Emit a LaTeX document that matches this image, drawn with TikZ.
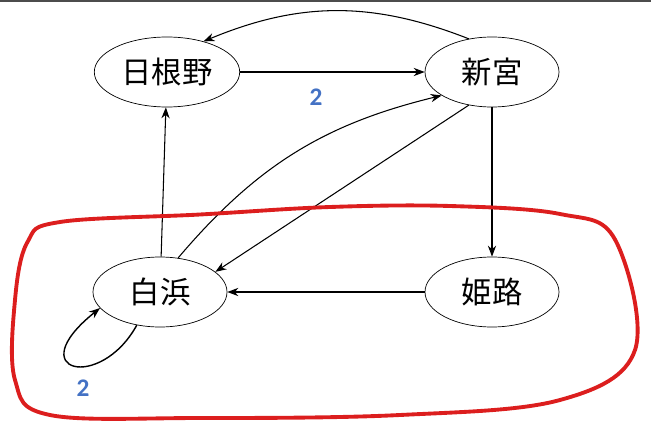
\documentclass[tikz,border=0pt]{standalone}
\usepackage{fontspec}
\newfontfamily\cjk{Noto Sans CJK JP}
\newfontfamily\lab{Carlito}
\usetikzlibrary{shapes.geometric,arrows.meta}
\definecolor{numblue}{RGB}{68,114,196}
\definecolor{loopred}{RGB}{220,30,30}
\tikzset{
  city/.style={ellipse,draw,thin,minimum width=2.68cm,minimum height=1.4cm,font=\cjk\LARGE},
  link/.style={-{Stealth[length=2.2mm]},semithick},
  num/.style={text=numblue,font=\lab\Large\bfseries}
}
\begin{document}
\begin{tikzpicture}
  \useasboundingbox (0,0) rectangle (13.02,8.74);
  \draw[gray!60!black,line width=0.6pt] (0,8.72) -- (13.02,8.72);
  % towns
  \node[city] (hinono) at (3.34,7.30) {日根野};
  \node[city] (shingu) at (9.84,7.30) {新宮};
  \node[city] (shirahama) at (3.20,2.90) {白浜};
  \node[city] (himeji) at (9.84,2.90) {姫路};
  % links
  \draw[link] (shingu.125) to[bend right=22] (hinono.40);
  \draw[link] (hinono) -- (shingu);
  \draw[link] (shirahama) -- (hinono);
  \draw[link] (shirahama.62) to[bend left=18] (shingu.205);
  \draw[link] (shingu.235) -- (shirahama.20);
  \draw[link] (shingu) -- (himeji);
  \draw[link] (himeji) -- (shirahama);
  \draw[link,thick] (shirahama.235) .. controls (2.0,0.9) and (0.4,1.3) .. (shirahama.195);
  \node[num] (w1) at (6.32,6.80) {2};
  \node[num] (w2) at (1.66,0.98) {2};
  % region
  \draw[loopred,line width=2.2pt] plot[smooth cycle,tension=0.6] coordinates {
    (1.2,4.30) (4.0,4.45) (6.6,4.60) (9.0,4.62) (11.2,4.46) (12.3,3.95)
    (12.7,1.74) (11.2,0.74) (8.0,0.44) (4.0,0.38) (1.0,0.44) (0.3,1.14)
    (0.3,2.74) (0.55,3.90)};
\end{tikzpicture}
\end{document}
